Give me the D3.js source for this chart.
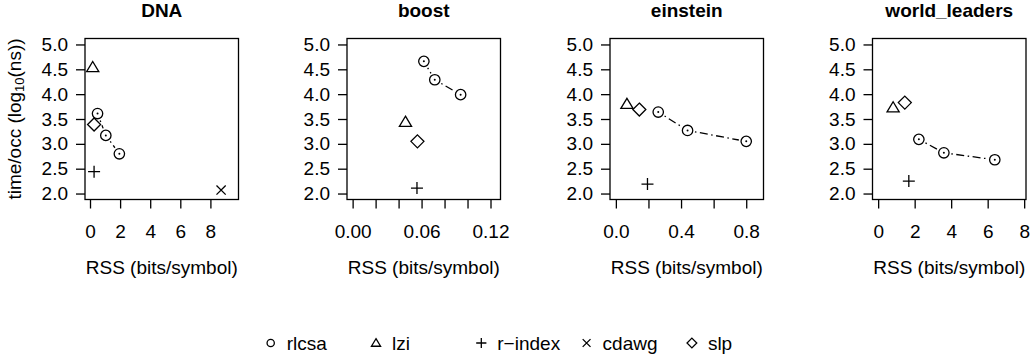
<!DOCTYPE html>
<html>
<head>
<meta charset="utf-8">
<script src="https://cdn.jsdelivr.net/npm/d3@7"></script>
<style>
  body { margin: 0; background: #fff; }
  svg { display: block; font-family: "Liberation Sans", Arial, Helvetica, sans-serif; }
</style>
</head>
<body>
<div id="chart"></div>
<script>
// datasets (one panel each)
const panels = ["DNA", "boost", "einstein", "world_leaders"];

// rlcsa: three points per panel, joined by a dot-dash line
const rlcsaX = [[0.50, 1.05, 1.95], [0.062, 0.0715, 0.094], [0.26, 0.44, 0.80], [2.23, 3.60, 6.39]];
const rlcsaY = [[3.61, 3.17, 2.80], [4.66, 4.29, 3.99], [3.64, 3.27, 3.05], [3.09, 2.82, 2.68]];

// single point methods
const lziX    = [0.18, 0.046, 0.068, 0.82];
const lziY    = [4.54, 3.44, 3.80, 3.73];
const rindexX = [0.27, 0.056, 0.194, 1.68];
const rindexY = [2.44, 2.11, 2.19, 2.25];
const cdawgX  = [8.71, null, null, null];
const cdawgY  = [2.07, null, null, null];
const slpX    = [0.27, 0.0564, 0.144, 1.46];
const slpY    = [3.39, 3.05, 3.69, 3.83];

// axes
const xLimits = [[-0.333, 9.867], [-0.0049, 0.1287], [-0.036, 0.906], [-0.31, 8.1]];
const xTicks = [
  [0, 2, 4, 6, 8],
  [0, 0.02, 0.04, 0.06, 0.08, 0.10, 0.12],
  [0, 0.2, 0.4, 0.6, 0.8],
  [0, 2, 4, 6, 8]
];
const xTickLabels = [
  ["0", "2", "4", "6", "8"],
  ["0.00", "", "", "0.06", "", "", "0.12"],
  ["0.0", "", "0.4", "", "0.8"],
  ["0", "2", "4", "6", "8"]
];
const yTicks = [2.0, 2.5, 3.0, 3.5, 4.0, 4.5, 5.0];
const yLimits = [1.88, 5.12];

const legendNames = ["rlcsa", "lzi", "r\u2212index", "cdawg", "slp"];
const legendShapes = ["circle", "triangle", "plus", "cross", "diamond"];

const W = 1032, H = 357;
const boxTop = 38.5, boxH = 161, boxW = 153.5;
const boxLeft = [85, 347, 610, 872.5];
const fs = 19;

const svg = d3.select("#chart").append("svg")
  .attr("width", W).attr("height", H);

// draw a point symbol, R pch style
function symbol(g, shape, cx, cy, s) {
  if (shape == "circle") {
    g.append("circle").attr("cx", cx).attr("cy", cy).attr("r", 5.2 * s)
      .attr("fill", "none").attr("stroke", "#000").attr("stroke-width", 1.3);
  } else if (shape == "triangle") {
    const h = 5.8 * s;
    g.append("path")
      .attr("d", `M${cx},${cy - h} L${cx + h * 1.05},${cy + h * 0.75} L${cx - h * 1.05},${cy + h * 0.75} Z`)
      .attr("fill", "none").attr("stroke", "#000").attr("stroke-width", 1.3);
  } else if (shape == "plus") {
    const h = 6 * s;
    g.append("path").attr("d", `M${cx - h},${cy} H${cx + h} M${cx},${cy - h} V${cy + h}`)
      .attr("stroke", "#000").attr("stroke-width", 1.3);
  } else if (shape == "cross") {
    const h = 4.6 * s;
    g.append("path").attr("d", `M${cx - h},${cy - h} L${cx + h},${cy + h} M${cx - h},${cy + h} L${cx + h},${cy - h}`)
      .attr("stroke", "#000").attr("stroke-width", 1.3);
  } else if (shape == "diamond") {
    const h = 6.5 * s;
    g.append("path").attr("d", `M${cx},${cy - h} L${cx + h},${cy} L${cx},${cy + h} L${cx - h},${cy} Z`)
      .attr("fill", "none").attr("stroke", "#000").attr("stroke-width", 1.3);
  }
}

panels.forEach((name, i) => {
  const g = svg.append("g").attr("transform", `translate(${boxLeft[i]},${boxTop})`);

  const x = d3.scaleLinear().domain(xLimits[i]).range([0, boxW]);
  const y = d3.scaleLinear().domain(yLimits).range([boxH, 0]);

  // title
  g.append("text")
    .attr("x", boxW / 2).attr("y", -22)
    .attr("text-anchor", "middle")
    .style("font-size", fs + "px").style("font-weight", "bold")
    .text(name);

  // x axis
  const xa = g.append("g").attr("transform", `translate(0,${boxH})`)
    .call(d3.axisBottom(x).tickValues(xTicks[i])
      .tickFormat((d, k) => xTickLabels[i][k]).tickSize(9).tickPadding(16).tickSizeOuter(0));
  xa.select(".domain").remove();
  xa.selectAll("line").attr("stroke-width", 1.3);
  xa.selectAll("text").style("font-size", fs + "px").style("font-family", "inherit").attr("fill", "#000");

  // y axis
  const ya = g.append("g")
    .call(d3.axisLeft(y).tickValues(yTicks).tickFormat(d3.format(".1f"))
      .tickSize(9).tickPadding(8).tickSizeOuter(0));
  ya.select(".domain").remove();
  ya.selectAll("line").attr("stroke-width", 1.3);
  ya.selectAll("text").style("font-size", fs + "px").style("font-family", "inherit").attr("fill", "#000");

  // box
  g.append("rect").attr("width", boxW).attr("height", boxH)
    .attr("fill", "none").attr("stroke", "#000").attr("stroke-width", 1.3);

  // x label
  g.append("text")
    .attr("x", boxW / 2).attr("y", boxH + 74)
    .attr("text-anchor", "middle")
    .style("font-size", fs + "px")
    .text("RSS (bits/symbol)");

  // rlcsa line with gaps at points (type = "b")
  const pts = rlcsaX[i].map((v, k) => [x(v), y(rlcsaY[i][k])]);
  const gap = 7.5;
  for (let k = 0; k < pts.length - 1; k++) {
    const [x1, y1] = pts[k], [x2, y2] = pts[k + 1];
    const len = Math.hypot(x2 - x1, y2 - y1);
    if (len <= 2 * gap) continue;
    const ux = (x2 - x1) / len, uy = (y2 - y1) / len;
    g.append("line")
      .attr("x1", x1 + ux * gap).attr("y1", y1 + uy * gap)
      .attr("x2", x2 - ux * gap).attr("y2", y2 - uy * gap)
      .attr("stroke", "#000").attr("stroke-width", 1.3)
      .attr("stroke-dasharray", "1.5,3.5,8,3.5");
  }
  pts.forEach(p => {
    symbol(g, "circle", p[0], p[1], 1);
    g.append("circle").attr("cx", p[0]).attr("cy", p[1]).attr("r", 1).attr("fill", "#000");
  });

  symbol(g, "triangle", x(lziX[i]), y(lziY[i]), 1);
  symbol(g, "plus", x(rindexX[i]), y(rindexY[i]), 1);
  if (cdawgX[i] != null) symbol(g, "cross", x(cdawgX[i]), y(cdawgY[i]), 1);
  symbol(g, "diamond", x(slpX[i]), y(slpY[i]), 1);
});

// y axis title
svg.append("text")
  .attr("transform", `translate(21,${boxTop + boxH / 2}) rotate(-90)`)
  .attr("text-anchor", "middle")
  .style("font-size", fs + "px")
  .html('time/occ (log<tspan baseline-shift="-25%" font-size="13px">10</tspan>(ns))');

// legend
const legendScale = [0.7, 0.75, 0.85, 0.85, 0.75];
const leg = svg.append("g").attr("transform", "translate(270.7,343)");
legendNames.forEach((n, k) => {
  const lx = k * 105.3;
  symbol(leg, legendShapes[k], lx, 0, legendScale[k]);
  leg.append("text").attr("x", lx + 16).attr("y", 0).attr("dy", "0.36em")
    .style("font-size", fs + "px").text(n);
});
</script>
</body>
</html>
